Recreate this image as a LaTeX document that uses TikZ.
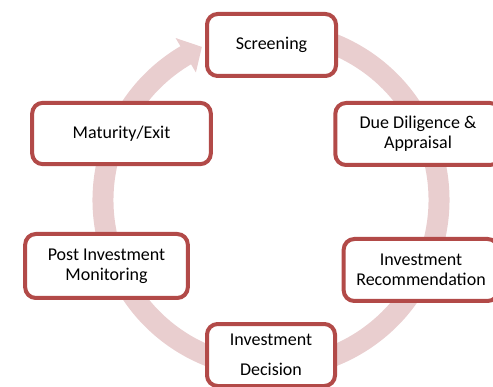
\documentclass[tikz,border=0pt]{standalone}
\usepackage{fontspec}
\setmainfont{Carlito}
\usepackage{xcolor}
\definecolor{stageborder}{RGB}{178,74,72}
\definecolor{ringpink}{RGB}{233,206,207}
\tikzset{
  stage/.style={draw=stageborder, line width=3pt, fill=white, rounded corners=8pt,
    align=center, inner sep=2pt, font=\fontsize{13.5pt}{15pt}\selectfont},
}

\begin{document}
\begin{tikzpicture}[x=0.75pt,y=0.75pt]
\useasboundingbox (0,0) rectangle (493,386);
\coordinate (hub) at (271,186);
\fill [ringpink, shift={(hub)}] (80:157.5) arc (80:-239.5:157.5) -- (-239.5:148) -- (-245.7:168)
  -- (-239.5:188) -- (-239.5:178.5) arc (-239.5:80:178.5) -- cycle;
\node [stage, minimum width=96.75pt, minimum height=46.5pt] (screen) at (271.5,341) {Screening};
\node [stage, minimum width=124pt, minimum height=46.5pt] (diligence) at (418,252) {Due Diligence \&\\Appraisal};
\node [stage, minimum width=116pt, minimum height=46.5pt] (recommend) at (421,116) {Investment\\Recommendation};
\node [stage, minimum width=96pt, minimum height=46.5pt] (decision) at (271,31) {Investment\\[7.5pt]Decision};
\node [stage, minimum width=122pt, minimum height=48pt] (monitor) at (106.5,120) {Post Investment\\Monitoring};
\node [stage, minimum width=134pt, minimum height=46pt] (exit) at (121.5,252.5) {Maturity/Exit};
\end{tikzpicture}
\end{document}
